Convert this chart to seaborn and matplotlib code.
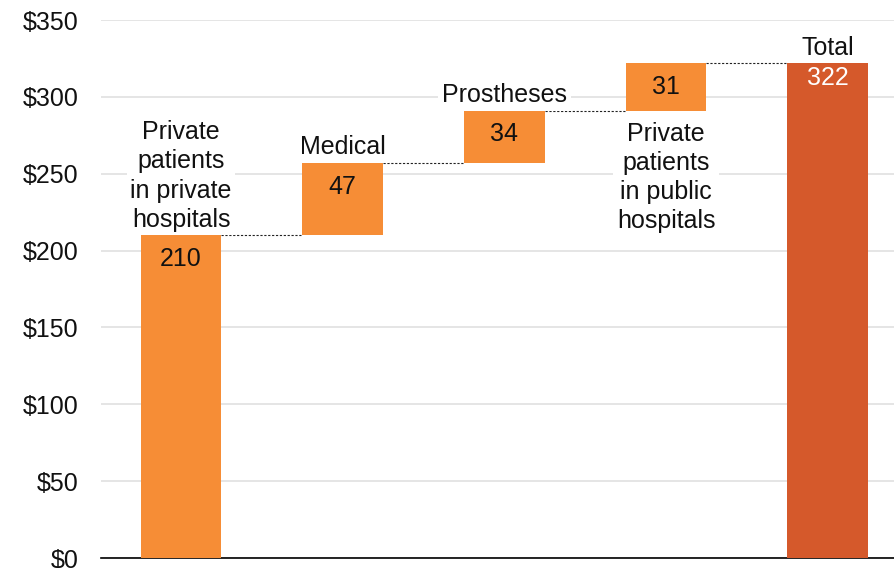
import numpy as np
import pandas as pd
import matplotlib
matplotlib.use("Agg")
import matplotlib.pyplot as plt
import seaborn as sns

# Components of private health insurance benefits ($ million), and the total
categories = [
    "Private\npatients\nin private\nhospitals",
    "Medical",
    "Prostheses",
    "Private\npatients\nin public\nhospitals",
    "Total",
]
values = [210, 47, 34, 31, 322]
is_total = [False, False, False, False, True]
label_below = [False, False, False, True, False]
y_ticks = [0, 50, 100, 150, 200, 250, 300, 350]

# Waterfall bases: each step starts where the previous one ended; the total starts at 0
bases = []
running = 0
for v, tot in zip(values, is_total):
    if tot:
        bases.append(0)
    else:
        bases.append(running)
        running += v
tops = [b + v for b, v in zip(bases, values)]

df = pd.DataFrame({"category": categories, "value": values, "base": bases})

step_color = "#F68D36"
total_color = "#D5592B"

sns.set_theme(style="white")
plt.rcParams["font.family"] = ["Liberation Sans", "DejaVu Sans"]

fig = plt.figure(figsize=(8.95, 5.68), dpi=100)
ax = fig.add_axes([101 / 895, 1 - 558 / 568, 1 - 101 / 895, (558 - 20) / 568])

sns.barplot(data=df, x="category", y="value", bottom=df["base"].to_numpy(),
            color=step_color, width=0.5, errorbar=None, saturation=1,
            linewidth=0, ax=ax, zorder=3)
for patch, tot in zip(ax.patches, is_total):
    patch.set_facecolor(total_color if tot else step_color)

# Dotted connectors between consecutive bars
half = 0.25
for i in range(len(values) - 1):
    ax.plot([i + half, i + 1 - half], [tops[i], tops[i]], color="#222222",
            linestyle=(0, (2, 1.5)), linewidth=0.8, zorder=4)

# Value labels inside the bars and category labels next to them
for i, (cat, v, b, t, tot, below) in enumerate(
        zip(categories, values, bases, tops, is_total, label_below)):
    ax.annotate(f"{v}", xy=(i, t), xytext=(0, -2 if tot else -8.5),
                textcoords="offset points", ha="center", va="top",
                fontsize=18, color="white" if tot else "#111111", zorder=5)
    if below:
        ax.annotate(cat, xy=(i, b), xytext=(0, -8), textcoords="offset points",
                    ha="center", va="top", fontsize=18, color="#111111",
                    linespacing=1.27, zorder=5,
                    bbox=dict(boxstyle="square,pad=0.15", fc="white", ec="none"))
    else:
        ax.annotate(cat, xy=(i, t), xytext=(0, 2.5), textcoords="offset points",
                    ha="center", va="bottom", fontsize=18, color="#111111",
                    linespacing=1.27, zorder=5,
                    bbox=dict(boxstyle="square,pad=0.15", fc="white", ec="none"))

ax.set_ylim(0, 350)
ax.set_xlim(-0.495, 4.416)
ax.set_yticks(y_ticks)
ax.set_yticklabels([f"${t}" for t in y_ticks])
ax.yaxis.grid(True, color="#E0E0E0", linewidth=1.2, zorder=0)
ax.set_axisbelow(True)
ax.set_xticks([])
ax.set_xlabel("")
ax.set_ylabel("")
ax.tick_params(axis="y", length=0, pad=16, labelsize=18, labelcolor="#111111")
for side in ["left", "right", "top"]:
    ax.spines[side].set_visible(False)
ax.spines["bottom"].set_color("#000000")
ax.spines["bottom"].set_linewidth(1.2)

fig.savefig("out.png", dpi=100)
